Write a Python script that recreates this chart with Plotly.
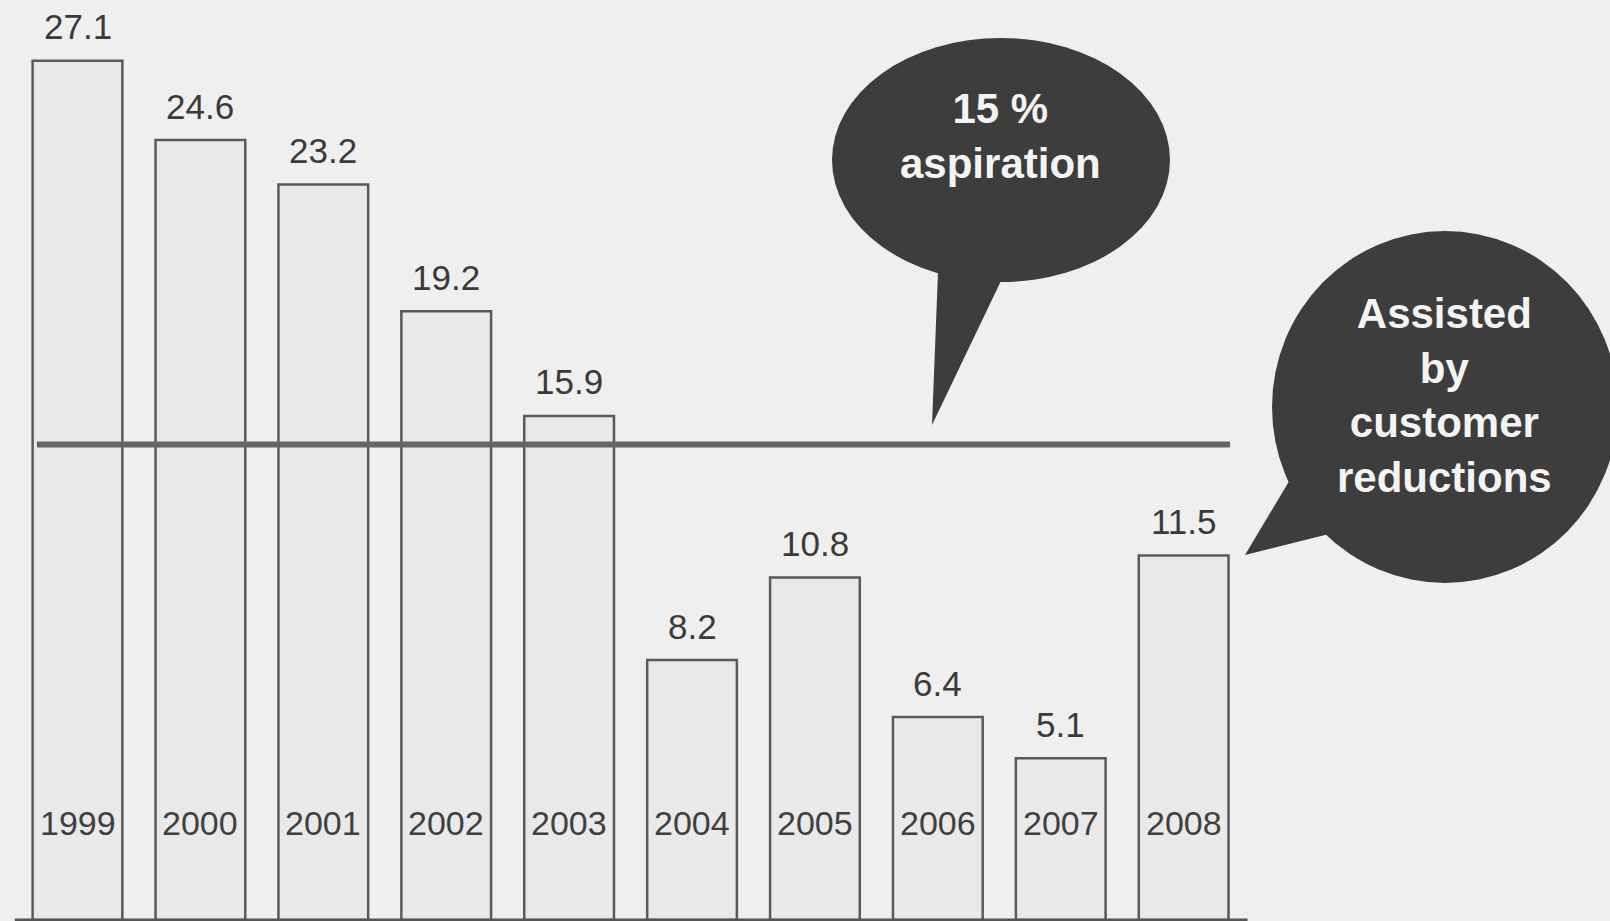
import plotly.graph_objects as go

# ---- data ----
years = ["1999", "2000", "2001", "2002", "2003", "2004", "2005", "2006", "2007", "2008"]
values = [27.1, 24.6, 23.2, 19.2, 15.9, 8.2, 10.8, 6.4, 5.1, 11.5]
value_labels = ["27.1", "24.6", "23.2", "19.2", "15.9", "8.2", "10.8", "6.4", "5.1", "11.5"]
aspiration = 15
bubble1_text = "15 %<br>aspiration"
bubble2_text = "Assisted<br>by<br>customer<br>reductions"

# ---- layout constants ----
W, H = 1610, 921
FONT = "Liberation Sans, Arial, sans-serif"
BG = "#efefef"
DARK = "#3d3d3d"
YEAR_Y = 3.05


def px(x):
    return x / W


def py(y):
    return 1 - y / H


fig = go.Figure()
fig.add_trace(go.Bar(
    x=years, y=values,
    marker=dict(color="#e9e9e9", line=dict(color="#5a5a5a", width=2.5)),
    hoverinfo="skip", showlegend=False,
))

annotations = []
for i, (yr, v, lab) in enumerate(zip(years, values, value_labels)):
    annotations.append(dict(x=i, y=v, xref="x", yref="y", text=lab, showarrow=False,
                            xanchor="center", yanchor="middle", yshift=34,
                            font=dict(family=FONT, size=35, color="#3a3a3a")))
    annotations.append(dict(x=i, y=YEAR_Y, xref="x", yref="y", text=yr, showarrow=False,
                            xanchor="center", yanchor="middle",
                            font=dict(family=FONT, size=34, color="#404040")))

# bubble texts
annotations.append(dict(x=px(1001), y=py(136), xref="paper", yref="paper", text=bubble1_text,
                        showarrow=False, xanchor="center", yanchor="middle", align="center",
                        font=dict(family=FONT, size=42, color="#f4f4f4", weight="bold")))
annotations.append(dict(x=px(1444), y=py(396), xref="paper", yref="paper", text=bubble2_text,
                        showarrow=False, xanchor="center", yanchor="middle", align="center",
                        font=dict(family=FONT, size=42, color="#f4f4f4", weight="bold")))

shapes = []
# baseline
shapes.append(dict(type="line", xref="x", yref="y", x0=-0.51, x1=9.52, y0=0, y1=0,
                   line=dict(color="#555555", width=3)))
# aspiration line
shapes.append(dict(type="line", xref="x", yref="y", x0=-0.33, x1=9.378, y0=aspiration, y1=aspiration,
                   line=dict(color="#666666", width=6)))


def poly(points):
    return "M " + " L ".join(f"{px(x):.5f},{py(y):.5f}" for x, y in points) + " Z"


# bubble 1
shapes.append(dict(type="circle", xref="paper", yref="paper",
                   x0=px(832), x1=px(1170), y0=py(282), y1=py(38),
                   fillcolor=DARK, line=dict(width=0)))
shapes.append(dict(type="path", xref="paper", yref="paper",
                   path=poly([(938.7, 255), (1008.6, 265), (932, 425)]),
                   fillcolor=DARK, line=dict(width=0)))
# bubble 2
shapes.append(dict(type="circle", xref="paper", yref="paper",
                   x0=px(1272), x1=px(1618), y0=py(583), y1=py(231),
                   fillcolor=DARK, line=dict(width=0)))
shapes.append(dict(type="path", xref="paper", yref="paper",
                   path=poly([(1300, 463), (1345, 530), (1245, 555)]),
                   fillcolor=DARK, line=dict(width=0)))

fig.update_layout(
    width=W, height=H,
    margin=dict(l=0, r=0, t=0, b=0),
    paper_bgcolor=BG, plot_bgcolor=BG,
    bargap=0.27,
    xaxis=dict(type="category", range=[-0.6306, 12.469], showticklabels=False, showgrid=False,
               zeroline=False, showline=False, ticks=""),
    yaxis=dict(range=[-0.032, 29.02], showticklabels=False, showgrid=False,
               zeroline=False, showline=False, ticks=""),
    annotations=annotations,
    shapes=shapes,
)

fig.write_html("out.html")
